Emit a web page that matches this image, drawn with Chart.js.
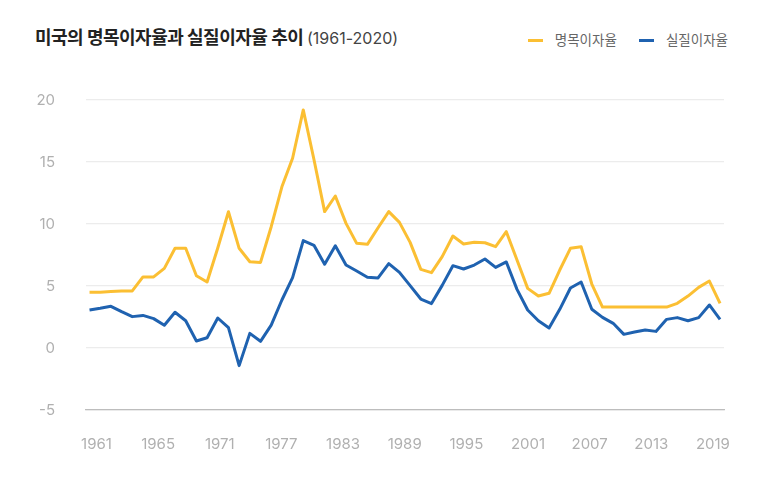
<!DOCTYPE html>
<html lang="ko">
<head>
  <meta charset="UTF-8" />
  <title>미국의 명목이자율과 실질이자율 추이</title>
  <script src="https://cdn.jsdelivr.net/npm/chart.js@4.4.1/dist/chart.umd.min.js"></script>
  <style>
    html, body { margin: 0; padding: 0; background: #fff; }
    body { width: 768px; height: 479px; position: relative; overflow: hidden;
           font-family: Inter, "Noto Sans CJK KR", sans-serif; }
    #title { position: absolute; left: 35px; top: 25px; font-size: 18px; font-weight: 700;
             color: #222; letter-spacing: -0.5px; white-space: nowrap; line-height: 26px; }
    #title span { font-weight: 400; font-size: 16px; color: #444; letter-spacing: 0; }
    #legend { position: absolute; right: 40px; top: 30px; display: flex; gap: 22px;
              font-size: 13.5px; color: #666; line-height: 20px; }
    #legend .item { display: flex; align-items: center; }
    #legend .swatch { width: 15px; height: 3px; margin-right: 12px; }
    #wrap { position: absolute; left: 0; top: 0; width: 768px; height: 479px; }
  </style>
</head>
<body>
  <div id="title">미국의 명목이자율과 실질이자율 추이 <span>(1961-2020)</span></div>
  <div id="legend"></div>
  <div id="wrap"><canvas id="rateChart"></canvas></div>

  <script>
    // 연도 (1961~2020)
    const years = [
      1961, 1962, 1963, 1964, 1965, 1966, 1967, 1968, 1969, 1970,
      1971, 1972, 1973, 1974, 1975, 1976, 1977, 1978, 1979, 1980,
      1981, 1982, 1983, 1984, 1985, 1986, 1987, 1988, 1989, 1990,
      1991, 1992, 1993, 1994, 1995, 1996, 1997, 1998, 1999, 2000,
      2001, 2002, 2003, 2004, 2005, 2006, 2007, 2008, 2009, 2010,
      2011, 2012, 2013, 2014, 2015, 2016, 2017, 2018, 2019, 2020
    ];

    // 명목이자율 (%)
    const nominalRate = [
      4.50, 4.50, 4.55, 4.60, 4.60, 5.73, 5.73, 6.42, 8.04, 8.04,
      5.83, 5.32, 8.06, 10.99, 8.04, 6.96, 6.90, 9.78, 13.00, 15.30,
      19.20, 15.20, 11.00, 12.26, 10.05, 8.44, 8.36, 9.70, 11.00, 10.13,
      8.52, 6.34, 6.08, 7.37, 9.03, 8.39, 8.52, 8.49, 8.17, 9.38,
      7.10, 4.81, 4.19, 4.41, 6.29, 8.04, 8.17, 5.16, 3.30, 3.30,
      3.30, 3.30, 3.30, 3.30, 3.30, 3.60, 4.19, 4.89, 5.40, 3.60
    ];

    // 실질이자율 (%)
    const realRate = [
      3.06, 3.20, 3.36, 2.93, 2.53, 2.63, 2.37, 1.83, 2.88, 2.20,
      0.56, 0.83, 2.42, 1.64, -1.42, 1.18, 0.54, 1.85, 3.87, 5.67,
      8.66, 8.28, 6.75, 8.25, 6.69, 6.21, 5.70, 5.65, 6.80, 6.10,
      5.03, 3.95, 3.58, 5.05, 6.64, 6.37, 6.69, 7.18, 6.50, 6.94,
      4.73, 3.06, 2.20, 1.61, 3.12, 4.84, 5.32, 3.12, 2.47, 1.99,
      1.10, 1.29, 1.45, 1.34, 2.31, 2.45, 2.20, 2.45, 3.47, 2.31
    ];

    // x축 눈금 라벨 (원본처럼 균등 간격)
    const xTickLabels = ["1961", "1965", "1971", "1977", "1983", "1989", "1995", "2001", "2007", "2013", "2019"];

    const series = [
      { label: "명목이자율", values: nominalRate, color: "#fbbf33" },
      { label: "실질이자율", values: realRate, color: "#1f62b0" }
    ];

    // 범례 (HTML)
    document.getElementById("legend").innerHTML = series.map(s => `
      <div class="item"><div class="swatch" style="background:${s.color}"></div>${s.label}</div>
    `).join("");

    const ctx = document.getElementById("rateChart").getContext("2d");
    new Chart(ctx, {
      type: "line",
      data: {
        datasets: series.map(s => ({
          label: s.label,
          data: years.map((y, i) => ({ x: y, y: s.values[i] })),
          borderColor: s.color,
          backgroundColor: s.color,
          borderWidth: 3,
          pointRadius: 0,
          tension: 0,
          borderJoinStyle: "round",
          xAxisID: "x",
          yAxisID: "y"
        }))
      },
      options: {
        responsive: true,
        maintainAspectRatio: false,
        animation: false,
        layout: { padding: { top: 100, right: 44, left: 0, bottom: 0 } },
        plugins: {
          legend: { display: false },
          tooltip: { enabled: false }
        },
        scales: {
          x: {
            type: "linear",
            display: false,
            min: 1960.67,
            max: 2020.37
          },
          xLabel: {
            type: "linear",
            position: "bottom",
            min: -0.17,
            max: 10.18,
            afterBuildTicks: axis => {
              axis.ticks = xTickLabels.map((l, i) => ({ value: i }));
            },
            afterFit: axis => { axis.height = 69; },
            grid: { display: false, drawTicks: false },
            border: { display: true, color: "#bdbdbd", width: 1.2 },
            ticks: {
              autoSkip: false,
              maxRotation: 0,
              padding: 25,
              color: "#b0b0b0",
              font: { family: "Inter, 'Noto Sans CJK KR'", size: 15 },
              callback: v => xTickLabels[v]
            }
          },
          y: {
            min: -5,
            max: 20,
            afterFit: axis => { axis.width = 86; },
            border: { display: false },
            grid: { color: "#ececec", lineWidth: 1.3, drawTicks: false },
            ticks: {
              stepSize: 5,
              padding: 31,
              color: "#b0b0b0",
              font: { family: "Inter, 'Noto Sans CJK KR'", size: 15 }
            }
          }
        }
      }
    });
  </script>
</body>
</html>
